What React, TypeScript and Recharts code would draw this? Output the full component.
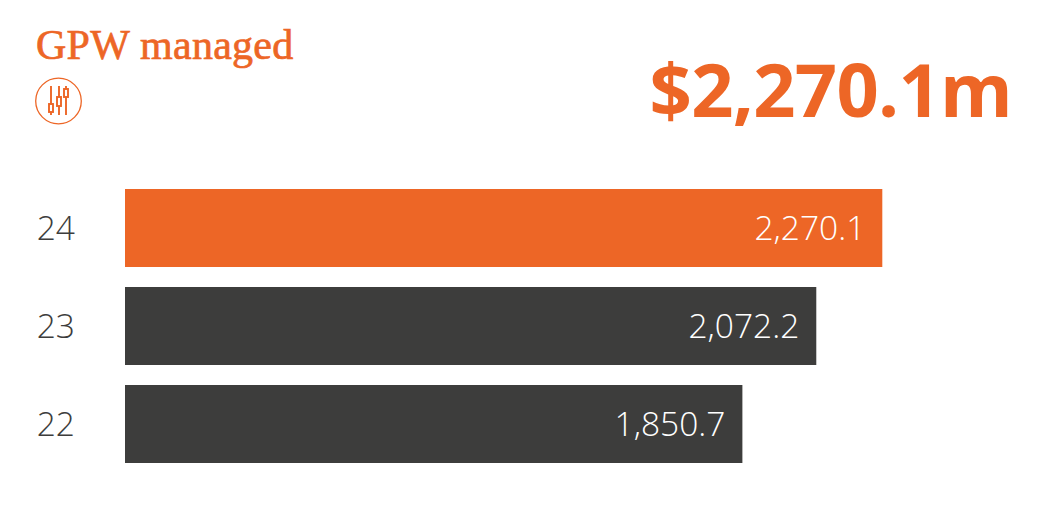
import { BarChart, Bar, XAxis, YAxis, Cell, LabelList } from 'recharts';

const years = ['24', '23', '22'];
const gpwValues = [2270.1, 2072.2, 1850.7];
const barColors = ['#ed6626', '#3d3d3c', '#3d3d3c'];

const chartData = years.map((year, i) => ({ year, gpw: gpwValues[i] }));

const ORANGE = '#ed6626';
const SANS = '"Open Sans", Lato, sans-serif';

function SlidersIcon() {
  return (
    <svg width={48} height={48} viewBox="0 0 48 48" style={{ position: 'absolute', left: 35, top: 77 }}>
      <circle cx={23.5} cy={24} r={22.8} fill="none" stroke={ORANGE} strokeWidth={1.3} />
      <g stroke={ORANGE} strokeWidth={1.9} fill="#fff">
        <line x1={16} y1={9} x2={16} y2={38} />
        <line x1={24} y1={9} x2={24} y2={38} />
        <line x1={31} y1={9} x2={31} y2={38} />
        <rect x={14} y={27} width={4} height={8} />
        <rect x={22} y={20} width={4} height={9} />
        <rect x={29} y={12} width={4} height={8} />
      </g>
    </svg>
  );
}

export default function App() {
  return (
    <div style={{ position: 'absolute', left: 0, top: 0, width: 1047, height: 520, background: '#fff', overflow: 'hidden' }}>
      <div style={{ position: 'absolute', left: 36, top: 21, fontFamily: '"Liberation Serif", serif', fontSize: 42, lineHeight: '48px', color: ORANGE, WebkitTextStroke: `0.7px ${ORANGE}`, letterSpacing: 0.25, whiteSpace: 'nowrap' }}>
        GPW managed
      </div>
      <SlidersIcon />
      <div style={{ position: 'absolute', right: 35, top: 41, fontFamily: SANS, fontWeight: 700, fontSize: 74, lineHeight: '96px', color: ORANGE, letterSpacing: -0.7, whiteSpace: 'nowrap' }}>
        $2,270.1m
      </div>
      <div style={{ position: 'absolute', left: 0, top: 179 }}>
        <BarChart
          width={1047}
          height={294}
          layout="vertical"
          data={chartData}
          margin={{ top: 0, right: 88, bottom: 0, left: 0 }}
          barCategoryGap={20}
        >
          <XAxis type="number" domain={[0, 2500]} hide />
          <YAxis
            type="category"
            dataKey="year"
            width={125}
            axisLine={false}
            tickLine={false}
            tickSize={0}
            tickMargin={50}
            tick={{ fontSize: 33.5, fontFamily: SANS, fontWeight: 300, fill: '#3d3d3c' }}
          />
          <Bar dataKey="gpw" barSize={78} isAnimationActive={false}>
            {chartData.map((d, i) => (
              <Cell key={d.year} fill={barColors[i]} />
            ))}
            <LabelList
              dataKey="gpw"
              position="insideRight"
              offset={17}
              formatter={(v: any) => Number(v).toLocaleString('en-US', { minimumFractionDigits: 1 })}
              style={{ fontSize: 33.5, fontFamily: SANS, fontWeight: 300, fill: '#fff' }}
            />
          </Bar>
        </BarChart>
      </div>
    </div>
  );
}
